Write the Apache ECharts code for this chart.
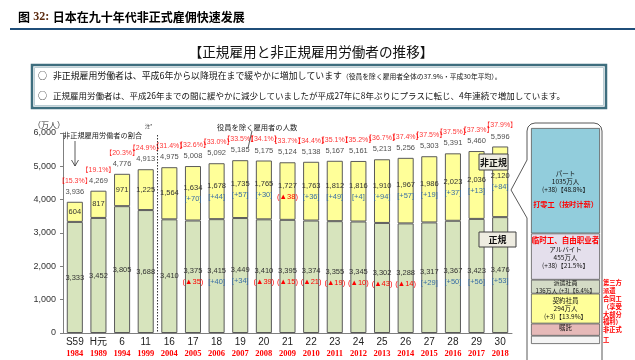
<!DOCTYPE html>
<html><head><meta charset="utf-8">
<script src="https://cdn.jsdelivr.net/npm/echarts@6/dist/echarts.min.js"></script>
<style>html,body{margin:0;padding:0;background:#fff}#c{width:635px;height:360px}</style>
</head><body><div id="c"></div>
<script>
// ---------- data ----------
const categories = ['S59','H元','6','11','16','17','18','19','20','21','22','23','24','25','26','27','28','29','30'];
const years = ['1984','1989','1994','1999','2004','2005','2006','2007','2008','2009','2010','2011','2012','2013','2014','2015','2016','2017','2018'];
const regular = [3333,3452,3805,3688,3410,3375,3415,3449,3410,3395,3374,3355,3345,3302,3288,3317,3367,3423,3476];
const nonRegular = [604,817,971,1225,1564,1634,1678,1735,1765,1727,1763,1812,1816,1910,1967,1986,2023,2036,2120];
const totals = [3936,4269,4776,4913,4975,5008,5092,5185,5175,5124,5138,5167,5161,5213,5256,5303,5391,5460,5596];
const ratios = ['15.3','19.1','20.3','24.9','31.4','32.6','33.0','33.5','34.1','33.7','34.4','35.1','35.2','36.7','37.4','37.5','37.5','37.3','37.9'];
const regularChange = ['','','','','','▲35','+40','+34','▲39','▲15','▲21','▲19','▲10','▲43','▲14','+29','+50','+56','+53'];
const nonRegularChange = ['','','','','','+70','+44','+57','+30','▲38','+36','+49','+4','+94','+57','+19','+37','+13','+84'];
const yTicks = [0,1000,2000,3000,4000,5000,6000];

const breakdownNames = ['パート','アルバイト','派遣社員','契約社員','嘱託','その他'];
const breakdownValues = [1035,455,136,294,120,81];
const breakdownChange = ['+38','+38','+3','+3','+4','+0'];
const breakdownShare = ['48.8','21.5','6.4','13.9','5.7','3.8'];
const breakdownNotes = ['打零工（按时计薪）','临时工、自由职业者','','','',''];
const sideNotes = [['第三方','派遣'],['合同工','（享受','大部分','福利）'],['非正式','工']];

// ---------- helpers ----------
const JP = '"Noto Sans CJK JP", sans-serif';
const SC = '"Noto Sans CJK SC", sans-serif';
const NUM = '"Liberation Sans", "Noto Sans CJK JP", sans-serif';
const fmt = n => n.toLocaleString('en-US');
const wrapChange = c => c.startsWith('▲') ? '(' + c + ')' : '[' + c + ']';
const chgStyle = c => c.startsWith('▲') ? 'n' : 'p';
const segRich = {
  v: {fontFamily: NUM, fontSize: 7.5, color: '#333', lineHeight: 11},
  p: {fontFamily: NUM, fontSize: 7.5, color: '#3A6EA5', lineHeight: 11},
  n: {fontFamily: NUM, fontSize: 7.5, color: '#FF0000', lineHeight: 11}
};
function segLabel(values, changes) {
  return {
    show: true, position: 'inside', rich: segRich,
    formatter: p => {
      const i = p.dataIndex, c = changes[i];
      const v = '{v|' + fmt(values[i]) + '}';
      return c ? v + '\n{' + chgStyle(c) + '|' + wrapChange(c) + '}' : v;
    }
  };
}

const chart = echarts.init(document.getElementById('c'));
const bdSum = breakdownValues.reduce((a, b) => a + b, 0);
const bdColors = ['#92CDDC','#E4DFEC','#D4DBC6','#FFFF99','#E6B9B8','#F4F4F4'];
const kStyle = {fontFamily: JP, fontSize: 6.5, color: '#111', lineHeight: 8};
const redStyle = {fontFamily: SC, fontSize: 7.2, fontWeight: 'bold', color: '#FF0000'};
const bdLabelText = [
  i => `{k|${breakdownNames[i]}}\n{k|${breakdownValues[i]}万人}\n{k|(${breakdownChange[i]})【${breakdownShare[i]}%】}\n{r|${breakdownNotes[i]}}`,
  i => `{r2|${breakdownNotes[i]}}\n{k|${breakdownNames[i]}}\n{k|${breakdownValues[i]}万人}\n{k|(${breakdownChange[i]})【${breakdownShare[i]}%】}`,
  i => `{s|${breakdownNames[i]}}\n{s|${breakdownValues[i]}万人 (${breakdownChange[i]})【${breakdownShare[i]}%】}`,
  i => `{k|${breakdownNames[i]}}\n{k|${breakdownValues[i]}万人}\n{k|(${breakdownChange[i]})【${breakdownShare[i]}%】}`,
  i => `{k|${breakdownNames[i]}}`,
  i => ''
];
const bdOffsets = [[0,12],[0,-4],[0,0],[0,0],[0,-2],[0,0]];

const bdSeries = breakdownNames.map((name, i) => ({
  type: 'bar', name, xAxisIndex: 1, yAxisIndex: 1, stack: 'bd', barWidth: '100%',
  data: [breakdownValues[i]],
  itemStyle: {color: bdColors[i], borderColor: '#595959', borderWidth: 0.8},
  label: {
    show: i < 5, position: 'inside', offset: bdOffsets[i],
    formatter: () => bdLabelText[i](i),
    rich: {
      k: kStyle,
      s: {fontFamily: JP, fontSize: 6, color: '#111', lineHeight: 8},
      r: Object.assign({lineHeight: 22}, redStyle),
      r2: Object.assign({lineHeight: 9}, redStyle, {fontSize: 7.5})
    }
  }
}));

const option = {
  animation: false,
  grid: [
    {left: 63, right: 123, top: 133, bottom: 27, outerBoundsMode: 'none'},
    {left: 531, width: 69, top: 128, height: 216, outerBoundsMode: 'none'}
  ],
  xAxis: [
    {type: 'category', gridIndex: 0, data: categories,
     axisLine: {lineStyle: {color: '#7f7f7f'}},
     axisTick: {length: 3, lineStyle: {color: '#7f7f7f'}},
     axisLabel: {margin: 4, interval: 0,
       formatter: (v, i) => '{a|' + v + '}\n{b|' + years[i] + '}',
       rich: {
         a: {fontFamily: NUM, fontSize: 10, color: '#222', lineHeight: 11},
         b: {fontFamily: '"Liberation Serif", serif', fontWeight: 'bold', fontSize: 8.5, color: '#FF0000', lineHeight: 11}
       }}},
    {type: 'category', gridIndex: 1, data: ['内訳'], show: false}
  ],
  yAxis: [
    {type: 'value', gridIndex: 0, min: yTicks[0], max: yTicks[yTicks.length - 1], interval: yTicks[1] - yTicks[0],
     splitLine: {show: false},
     axisLine: {show: true, lineStyle: {color: '#7f7f7f'}},
     axisTick: {show: true, length: 3, lineStyle: {color: '#7f7f7f'}},
     axisLabel: {formatter: v => fmt(v), fontFamily: NUM, fontSize: 9, color: '#333', margin: 7}},
    {type: 'value', gridIndex: 1, inverse: true, min: 0, max: bdSum, show: false}
  ],
  series: [
    {type: 'bar', name: '正規', stack: 'emp', barWidth: '68%', data: regular,
     itemStyle: {color: '#D7E4BD', borderColor: '#5a5a5a', borderWidth: 1},
     label: segLabel(regular, regularChange)},
    {type: 'bar', name: '非正規', stack: 'emp', data: nonRegular,
     itemStyle: {color: '#FFFF99', borderColor: '#5a5a5a', borderWidth: 1},
     label: segLabel(nonRegular, nonRegularChange)},
    {type: 'scatter', name: '合計', data: totals, symbolSize: 1,
     itemStyle: {color: 'rgba(0,0,0,0)'},
     label: {show: true, position: 'top', distance: 4,
       formatter: p => '{r|【' + ratios[p.dataIndex] + '%】}\n{t|' + fmt(totals[p.dataIndex]) + '}',
       rich: {
         r: {fontFamily: NUM, fontSize: 7, color: '#FF0000', lineHeight: 11},
         t: {fontFamily: NUM, fontSize: 7.5, color: '#222', lineHeight: 11}
       }}},
    ...bdSeries
  ]
};
chart.setOption(option);

// ---------- annotations ----------
const x3 = chart.convertToPixel({xAxisIndex: 0}, 3);
const x4 = chart.convertToPixel({xAxisIndex: 0}, 4);
const sepX = (x3 + x4) / 2;
const yTop = chart.convertToPixel({yAxisIndex: 0}, 6000);
const yZero = chart.convertToPixel({yAxisIndex: 0}, 0);

function txt(x, y, text, font, fill, align, extra) {
  return Object.assign({type: 'text', z: 100,
    style: {x, y, text, font, fill: fill || '#000', textAlign: align || 'left', align: align || 'left',
            textVerticalAlign: 'middle', verticalAlign: 'middle'}}, extra || {});
}
function pl(points, stroke, lw, z) {
  return {type: 'polyline', z: z || 100, shape: {points}, style: {fill: null, stroke, lineWidth: lw}};
}
const g = [];
// header
g.push({type: 'text', z: 100, style: {x: 18, y: 17, textVerticalAlign: 'middle', verticalAlign: 'middle',
  text: '{a|图} {b|32:} {a|日本在九十年代非正式雇佣快速发展}',
  rich: {a: {font: 'bold 12px "Noto Sans CJK SC"', fill: '#000'},
         b: {font: 'bold 12px "Liberation Serif"', fill: '#5B2A0E'}}}});
g.push({type: 'line', z: 100, shape: {x1: 10, y1: 29, x2: 635, y2: 29}, style: {stroke: '#1F4E79', lineWidth: 2}});
g.push(txt(311, 52, '【正規雇用と非正規雇用労働者の推移】', '13.6px "Noto Sans CJK JP"', '#111', 'center'));
g.push({type: 'rect', z: 90, shape: {x: 32, y: 65, width: 574, height: 43}, style: {fill: '#fff', stroke: '#3E6E7E', lineWidth: 2.5}});
g.push({type: 'rect', z: 91, shape: {x: 34.5, y: 67.5, width: 569, height: 38}, style: {fill: null, stroke: '#A9C1C9', lineWidth: 0.8}});
g.push(txt(38, 76, '○', '9px "Noto Sans CJK JP"', '#111'));
g.push(txt(38, 96, '○', '9px "Noto Sans CJK JP"', '#111'));
g.push({type: 'text', z: 100, style: {x: 53, y: 76, textVerticalAlign: 'middle', verticalAlign: 'middle',
  text: '{m|非正規雇用労働者は、平成6年から以降現在まで緩やかに増加しています}{s|（役員を除く雇用者全体の37.9%・平成30年平均）。}',
  rich: {m: {font: '8.9px "Noto Sans CJK JP"', fill: '#111'}, s: {font: '6.8px "Noto Sans CJK JP"', fill: '#111'}}}});
g.push(txt(53, 96, '正規雇用労働者は、平成26年までの間に緩やかに減少していましたが平成27年に8年ぶりにプラスに転じ、4年連続で増加しています。', '8.5px "Noto Sans CJK JP"', '#111'));
// axis unit & notes
g.push(txt(33, 125, '（万人）', '8px "Noto Sans CJK JP"', '#333'));
g.push(txt(63, 135, '非正規雇用労働者の割合', '7.2px "Noto Sans CJK JP"', '#222'));
g.push(pl([[75, 141], [75, 166]], '#333', 0.8));
g.push(pl([[71.5, 160], [75, 166], [78.5, 160]], '#333', 0.8));
g.push(txt(145, 126, '注*', '5px "Noto Sans CJK JP"', '#333'));
g.push(txt(217, 127, '役員を除く雇用者の人数', '7.3px "Noto Sans CJK JP"', '#222'));
g.push({type: 'line', z: 100, shape: {x1: 252, y1: 131, x2: 248, y2: 148}, style: {stroke: '#333', lineWidth: 0.8}});
g.push({type: 'line', z: 100, shape: {x1: sepX, y1: yTop + 2, x2: sepX, y2: yZero}, style: {stroke: '#333', lineWidth: 1, lineDash: [1.5, 1.5]}});
// series tags
g.push({type: 'rect', z: 110, shape: {x: 479, y: 154, width: 29, height: 16}, style: {fill: '#EEECE1', stroke: '#404040', lineWidth: 1}});
g.push(txt(493.5, 162.5, '非正規', 'bold 9px "Noto Sans CJK JP"', '#111', 'center', {z: 111}));
g.push({type: 'rect', z: 110, shape: {x: 479, y: 232, width: 37, height: 15}, style: {fill: '#EEECE1', stroke: '#404040', lineWidth: 1}});
g.push(txt(497.5, 240, '正規', 'bold 9px "Noto Sans CJK JP"', '#111', 'center', {z: 111}));
// callout outline
g.push(pl([[527, 362], [527, 218], [511, 190], [527, 160], [527, 131], [528, 127], [531, 124], [535, 123],
           [594, 123], [598, 124], [601, 127], [602, 131], [602, 362]], '#595959', 1));
// side notes
const sideY = [283, 299, 330];
const sideStep = [7.5, 7.7, 10];
sideNotes.forEach((lines, k) => lines.forEach((t, j) =>
  g.push(txt(603, sideY[k] + j * sideStep[k], t, 'bold 6.3px "Noto Sans CJK SC"', '#FF0000'))));
chart.setOption({graphic: {elements: g}});
</script></body></html>
